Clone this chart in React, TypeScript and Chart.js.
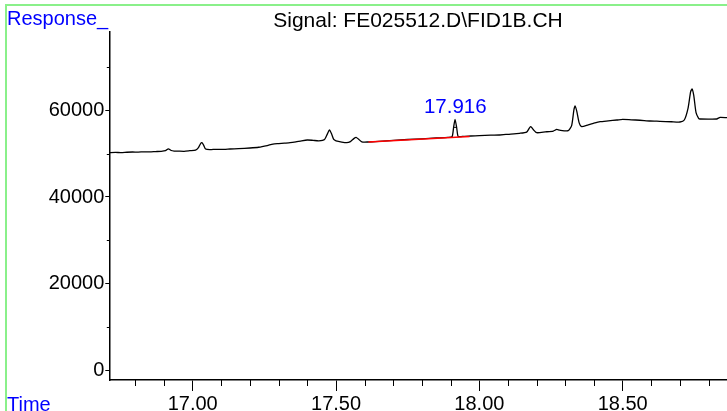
import React, { useEffect, useRef } from 'react';
import { Chart, registerables } from 'chart.js';

Chart.register(...registerables);

const FONT = '"Liberation Sans", Arial, Helvetica, sans-serif';

// Retention time (min) of the trace
const times = [
  16.709, 16.73, 16.75, 16.77, 16.79, 16.81, 16.83, 16.85, 16.87, 16.89,
  16.905, 16.915, 16.925, 16.935, 16.95, 16.97, 16.99, 17.01, 17.02, 17.027,
  17.032, 17.038, 17.045, 17.06, 17.08, 17.10, 17.13, 17.16, 17.20, 17.23,
  17.26, 17.28, 17.30, 17.32, 17.34, 17.36, 17.38, 17.40, 17.42, 17.44,
  17.46, 17.47, 17.477, 17.485, 17.492, 17.50, 17.52, 17.537, 17.55, 17.562,
  17.57, 17.578, 17.59, 17.61, 17.65, 17.70, 17.75, 17.80, 17.85, 17.89,
  17.905, 17.910, 17.9152, 17.921, 17.926, 17.94, 17.97, 18.00, 18.04, 18.07,
  18.10, 18.14, 18.165, 18.175, 18.18, 18.188, 18.20, 18.23, 18.258, 18.27,
  18.28, 18.31, 18.322, 18.33, 18.334, 18.34, 18.348, 18.357, 18.38, 18.398,
  18.421, 18.45, 18.48, 18.50, 18.53, 18.56, 18.596, 18.63, 18.67, 18.70,
  18.715, 18.728, 18.737, 18.742, 18.748, 18.756, 18.765, 18.77, 18.80, 18.828,
  18.84, 18.864,
];

// Detector response
const signal = [
  50250, 50300, 50280, 50350, 50400, 50380, 50450, 50430, 50500, 50560,
  50700, 51150, 50750, 50630, 50600, 50560, 50700, 50850, 51400, 52300,
  52550, 52000, 51100, 50950, 51030, 51000, 51100, 51200, 51330, 51500,
  51900, 52250, 52350, 52450, 52550, 52750, 53000, 53180, 53100, 53000,
  53300, 54600, 55500, 54500, 53300, 53000, 52700, 52550, 52800, 53500,
  53800, 53400, 52750, 52714, 52850, 53100, 53300, 53450, 53650, 53800,
  53950, 56000, 57962, 56000, 54000, 54000, 54100, 54200, 54300, 54332,
  54500, 54725, 55000, 56000, 56250, 55600, 54864, 55050, 55257, 55650,
  55450, 55326, 56500, 60200, 61037, 59800, 57200, 56251, 56700, 57037,
  57407, 57600, 57800, 57962, 57850, 57750, 57569, 57500, 57400, 57338,
  57800, 60500, 64300, 64967, 63500, 59500, 58200, 58031, 58000, 58031,
  58425, 58333,
];

// Integration baseline of the labelled peak
const baselineTimes = [17.613, 17.966];
const baselineValues = [52717, 53988];

// Peak marker crossbar
const markTimes = [17.909, 17.922];
const markValues = [56100, 56100];

// Peak label
const peakLabel = '17.916';
const peakLabelTime = 17.916;
const peakLabelValue = 59350;

// Axes
const xMin = 16.709;
const xMax = 18.864;
const yMin = -2312;
const yMax = 78150;
const xMajorTicks = [17.0, 17.5, 18.0, 18.5];
const xMinorTicks = [16.8, 16.9, 17.1, 17.2, 17.3, 17.4, 17.6, 17.7, 17.8, 17.9, 18.1, 18.2, 18.3, 18.4, 18.6, 18.7, 18.8];
const yMajorTicks = [0, 20000, 40000, 60000];
const yMinorTicks = [10000, 30000, 50000, 70000];

const titleText = 'Signal: FE025512.D\\FID1B.CH';
const yTitle = 'Response_';
const xTitle = 'Time';

const decor = {
  id: 'decor',
  afterDraw(chart: any) {
    const ctx = chart.ctx;
    const xs = chart.scales.x;
    const ys = chart.scales.y;
    const area = chart.chartArea;
    ctx.save();
    // green frame
    ctx.strokeStyle = '#8af08a';
    ctx.lineWidth = 2;
    ctx.beginPath();
    ctx.moveTo(6, 411);
    ctx.lineTo(6, 5);
    ctx.lineTo(727, 5);
    ctx.stroke();

    // minor ticks
    ctx.strokeStyle = '#000';
    ctx.lineWidth = 1;
    ctx.beginPath();
    for (const t of xMinorTicks) {
      const px = Math.round(xs.getPixelForValue(t)) + 0.5;
      ctx.moveTo(px, area.bottom);
      ctx.lineTo(px, area.bottom + 6);
    }
    for (const v of yMinorTicks) {
      const py = Math.round(ys.getPixelForValue(v)) + 0.5;
      ctx.moveTo(area.left - 2.5, py);
      ctx.lineTo(area.left, py);
    }
    ctx.stroke();

    // texts
    ctx.textBaseline = 'alphabetic';
    ctx.fillStyle = '#0000ff';
    ctx.font = `20px ${FONT}`;
    ctx.textAlign = 'left';
    ctx.fillText(yTitle, 7, 25);
    ctx.fillText(xTitle, 7, 411);

    ctx.fillStyle = '#000';
    ctx.font = `21px ${FONT}`;
    ctx.textAlign = 'center';
    ctx.fillText(titleText, 418, 27);

    ctx.fillStyle = '#0000ff';
    ctx.font = `20.5px ${FONT}`;
    ctx.textAlign = 'center';
    ctx.fillText(peakLabel, xs.getPixelForValue(peakLabelTime), ys.getPixelForValue(peakLabelValue));
    ctx.restore();
  },
};

export default function App() {
  const ref = useRef<HTMLCanvasElement | null>(null);

  useEffect(() => {
    if (!ref.current) return;
    const trace = times.map((t, i) => ({ x: t, y: signal[i] }));
    const base = baselineTimes.map((t, i) => ({ x: t, y: baselineValues[i] }));
    const mark = markTimes.map((t, i) => ({ x: t, y: markValues[i] }));
    const chart = new Chart(ref.current, {
      type: 'line',
      data: {
        datasets: [
          { data: base, borderColor: '#ff0000', borderWidth: 1.6, pointRadius: 0, tension: 0, order: 0 },
          { data: mark, borderColor: '#000', borderWidth: 1, pointRadius: 0, tension: 0, order: 1 },
          { data: trace, borderColor: '#000', borderWidth: 1.3, pointRadius: 0, tension: 0.2, order: 2 },
        ],
      },
      options: {
        responsive: false,
        animation: false,
        devicePixelRatio: 1,
        layout: { padding: { top: 32, left: 0, right: 0, bottom: 0 } },
        plugins: { legend: { display: false }, tooltip: { enabled: false }, title: { display: false } },
        scales: {
          x: {
            type: 'linear',
            min: xMin,
            max: xMax,
            afterBuildTicks: (s: any) => { s.ticks = xMajorTicks.map((v) => ({ value: v })); },
            afterFit: (s: any) => { s.height = 31; },
            ticks: {
              callback: (v: any) => Number(v).toFixed(2),
              font: { family: FONT, size: 20 },
              color: '#000',
              padding: 1,
              maxRotation: 0,
              autoSkip: false,
            },
            grid: { drawOnChartArea: false, drawTicks: true, tickLength: 11, tickColor: '#000', tickWidth: 1 },
            border: { display: true, color: '#000', width: 1.5 },
          },
          y: {
            type: 'linear',
            min: yMin,
            max: yMax,
            afterBuildTicks: (s: any) => { s.ticks = yMajorTicks.map((v) => ({ value: v })); },
            afterFit: (s: any) => { s.width = 109.3; },
            ticks: {
              callback: (v: any) => String(v),
              font: { family: FONT, size: 20 },
              color: '#000',
              padding: 1,
              autoSkip: false,
            },
            grid: { drawOnChartArea: false, drawTicks: true, tickLength: 4, tickColor: '#000', tickWidth: 1 },
            border: { display: true, color: '#000', width: 1.5 },
          },
        },
      },
      plugins: [decor],
    });
    return () => chart.destroy();
  }, []);

  return (
    <div style={{ position: 'absolute', left: 0, top: 0, width: 727, height: 411, background: '#fff' }}>
      <canvas ref={ref} width={727} height={411} style={{ display: 'block', width: 727, height: 411 }} />
    </div>
  );
}
